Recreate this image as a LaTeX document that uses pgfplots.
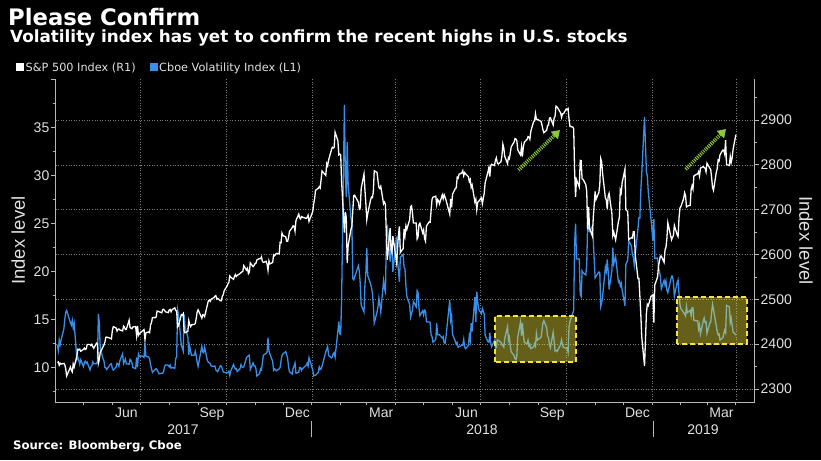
\documentclass[border=0pt]{standalone}
\usepackage{fontspec}
\setmainfont{DejaVu Sans}
\newfontfamily\lib{Liberation Sans}
\usepackage{pgfplots}
\pgfplotsset{compat=1.18}
\usetikzlibrary{arrows.meta}
\definecolor{vixblue}{RGB}{56,142,232}
\definecolor{axgray}{RGB}{185,185,185}
\definecolor{gridgray}{RGB}{125,125,125}
\definecolor{labgray}{RGB}{225,225,225}
\definecolor{boxyellow}{RGB}{245,228,60}
\definecolor{arrowgreen}{RGB}{140,200,60}
\pgfplotsset{
  base/.style={
    at={(55.5pt,57.3pt)}, anchor=south west,
    scale only axis, width=699pt, height=323.5pt,
    xmin=0, xmax=750,
    axis line style={-, draw=axgray, line width=0.8pt},
    tick style={axgray, line width=0.8pt},
    tick align=outside,
    major tick length=4.5pt, minor tick length=2.8pt,
    major grid style={gridgray, dash pattern=on 1pt off 1.6pt, line width=0.6pt},
    tick label style={font=\lib\fontsize{14}{14}\selectfont, text=labgray},
  }
}
\begin{document}
\begin{tikzpicture}[x=1pt,y=1pt]
\fill[black] (0,0) rectangle (821,460);
\path[use as bounding box] (0,0) rectangle (821,460);

% Axis 1: right axis (S&P scale) + horizontal grid, no plot
\begin{axis}[base,
  ymin=2269.4, ymax=2991,
  hide x axis,
  axis y line*=right,
  ytick={2300,2400,2500,2600,2700,2800,2900},
  yticklabels={2300,2400,2500,2600,2700,2800,2900},
  minor ytick={2350,2450,2550,2650,2750,2850,2950},
  ymajorgrids,
  yticklabel style={anchor=west, inner sep=0pt, xshift=1.5pt},
]
\addplot[draw=none, forget plot] coordinates {(0,2300)};
\end{axis}

% Axis 2: VIX (left)
\begin{axis}[base,
  ymin=6.36, ymax=40,
  axis x line*=bottom, axis y line*=left,
  ytick={10,15,20,25,30,35,40},
  yticklabels={10,15,20,25,30,35,},
  minor ytick={7.5,12.5,17.5,22.5,27.5,32.5,37.5},
  yticklabel style={anchor=east, inner sep=0pt, xshift=-1.5pt},
  xtick={76,168,259.5,349.5,441,533,624.5,714.5},
  xticklabels={Jun,Sep,Dec,Mar,Jun,Sep,Dec,Mar},
  major x tick style={draw=none},
  minor xtick={30,61,91,122,153,183,214,244,275,306,334,365,395,426,456,487,518,548,579,609,640,671,699,730},
  extra x ticks={91,183,275,365,456,548,640,730},
  extra x tick labels={},
  extra x tick style={grid=major},
  xticklabel style={anchor=north, inner sep=0pt, yshift=0pt},
]
\addplot[vixblue, line width=1.3pt] coordinates {
(2,12.38)(3,11.79)(4,12.89)(5,12.39)(6,12.87)(9,14.05)(10,15.07)(11,15.77)(12,15.96)(16,14.66)(17,14.42)(18,14.93)(19,14.15)(20,14.63)(23,10.84)(24,11.07)(25,10.76)(26,10.36)(27,10.82)
(30,10.11)(31,10.59)(32,10.68)(33,10.46)(34,10.57)(37,9.77)(38,10.11)(39,10.21)(40,10.60)(41,10.40)(44,10.42)(45,10.65)(46,15.59)(47,14.66)(48,12.04)(51,10.93)(52,10.72)(53,10.02)(54,9.99)(55,9.81)(59,10.38)(60,10.41)
(61,9.89)(62,9.75)(65,10.07)(66,10.45)(67,10.39)(68,10.16)(69,10.70)(72,11.46)(73,10.42)(74,10.64)(75,10.90)(76,10.38)(79,10.37)(80,10.86)(81,10.75)(82,10.48)(83,10.02)(86,9.90)(87,11.06)(88,10.03)(89,11.44)(90,11.18)
(93,11.22)(95,11.07)(96,12.54)(97,11.19)(100,11.11)(101,10.89)(102,10.30)(103,9.90)(104,9.51)(107,9.82)(108,9.89)(109,9.79)(110,9.58)(111,9.36)(114,9.43)(115,9.43)(116,9.60)(117,10.11)(118,10.29)(121,10.26)
(122,10.09)(123,10.28)(124,9.95)(125,10.03)(128,9.93)(129,10.96)(130,11.11)(131,16.04)(132,15.51)(135,12.33)(136,12.04)(137,11.74)(138,15.55)(139,14.26)(142,13.19)(143,11.35)(144,12.25)(145,11.67)(146,11.28)(149,11.32)(150,11.70)(151,11.22)(152,10.59)
(153,10.13)(157,12.23)(158,11.63)(159,11.55)(160,12.12)(163,10.73)(164,10.58)(165,10.50)(166,10.44)(167,10.17)(170,10.15)(171,10.18)(172,9.78)(173,9.67)(174,9.59)(177,10.21)(178,10.17)(179,9.87)(180,9.55)(181,9.51)
(184,9.45)(185,9.51)(186,9.63)(187,9.19)(188,9.65)(191,10.33)(192,10.08)(193,9.85)(194,9.91)(195,9.61)(198,9.91)(199,10.31)(200,10.07)(201,10.05)(202,10.07)(205,11.07)(206,11.16)(207,11.23)(208,11.30)(209,9.80)(212,10.50)(213,10.18)
(214,10.20)(215,9.93)(216,9.14)(219,9.40)(220,9.89)(221,9.78)(222,10.50)(223,11.29)(226,11.50)(227,11.59)(228,13.13)(229,11.76)(230,11.43)(233,10.65)(234,9.73)(235,9.88)(237,9.67)(240,9.87)(241,10.03)(242,10.70)(243,11.28)
(244,11.43)(247,11.68)(248,11.33)(249,11.02)(250,10.16)(251,9.58)(254,9.34)(255,9.92)(256,10.18)(257,10.49)(258,9.42)(261,9.53)(262,10.03)(263,10.03)(264,9.72)(265,9.90)(269,10.25)(270,10.47)(271,10.18)(272,11.04)
(276,9.77)(277,9.15)(278,9.22)(279,9.22)(282,9.52)(283,10.08)(284,9.82)(285,9.88)(286,10.16)(290,11.66)(291,11.91)(292,12.22)(293,11.27)(296,11.03)(297,11.10)(298,11.47)(299,11.58)(300,11.08)(303,13.84)(304,14.79)(305,13.54)
(306,13.47)(307,17.31)(310,37.32)(311,29.98)(312,27.73)(313,33.46)(314,29.06)(317,25.61)(318,24.97)(319,19.26)(320,19.13)(321,19.46)(325,20.60)(326,20.02)(327,18.72)(328,16.49)(331,15.80)(332,18.59)(333,19.85)
(334,22.47)(335,19.59)(338,18.73)(339,18.36)(340,17.76)(341,16.54)(342,14.64)(345,15.78)(346,16.35)(347,17.23)(348,16.59)(349,15.80)(352,19.02)(353,18.20)(354,17.86)(355,23.34)(356,24.87)(359,21.03)(360,22.50)(361,22.87)(362,19.97)
(366,23.62)(367,21.10)(368,20.06)(369,18.94)(370,21.49)(373,21.77)(374,20.47)(375,20.24)(376,18.49)(377,17.41)(380,16.56)(381,15.25)(382,15.60)(383,15.96)(384,16.88)(387,16.34)(388,18.02)(389,17.84)(390,16.24)(391,15.41)(394,15.93)
(395,15.49)(396,15.97)(397,15.90)(398,14.77)(401,14.75)(402,14.71)(403,13.42)(404,13.23)(405,12.65)(408,12.93)(409,14.63)(410,13.42)(411,13.43)(412,13.42)(415,13.08)(416,13.22)(417,12.58)(418,12.53)(419,13.22)(423,17.02)(424,14.94)(425,15.43)
(426,13.46)(429,12.74)(430,12.40)(431,12.60)(432,12.13)(433,12.18)(436,12.35)(437,12.34)(438,12.94)(439,12.12)(440,11.98)(443,12.31)(444,13.35)(445,12.79)(446,14.64)(447,13.77)(450,17.33)(451,14.77)(452,17.91)(453,16.85)(454,16.09)
(457,15.60)(458,16.14)(460,15.57)(461,13.37)(464,12.69)(465,12.64)(466,13.63)(467,12.58)(468,12.18)(471,12.83)(472,12.06)(473,12.10)(474,12.87)(475,12.86)(478,12.62)(479,12.41)(480,12.29)(481,12.14)(482,13.03)(485,14.26)(486,12.83)
(487,13.15)(488,12.19)(489,11.64)(492,11.27)(493,10.93)(494,10.85)(495,11.27)(496,13.16)(499,14.78)(500,13.31)(501,14.64)(502,13.45)(503,12.64)(506,12.49)(507,12.86)(508,12.25)(509,12.41)(510,11.99)(513,12.16)(514,12.50)(515,12.25)(516,13.53)(517,12.86)
(521,13.16)(522,13.91)(523,14.65)(524,14.88)(527,14.16)(528,13.22)(529,13.14)(530,12.37)(531,12.07)(534,13.68)(535,12.79)(536,11.75)(537,11.80)(538,11.68)(541,12.20)(542,12.42)(543,12.89)(544,12.41)(545,12.12)
(548,12.00)(549,12.05)(550,11.61)(551,14.22)(552,14.82)(555,15.69)(556,15.95)(557,22.96)(558,24.98)(559,21.31)(562,21.30)(563,17.62)(564,17.40)(565,20.06)(566,19.89)(569,19.64)(570,20.71)(571,25.23)(572,24.22)(573,24.16)(576,24.70)(577,23.35)(578,21.23)
(579,19.34)(580,19.51)(583,19.96)(584,19.91)(585,16.36)(586,16.72)(587,17.36)(590,20.45)(591,20.02)(592,21.25)(593,19.98)(594,18.14)(597,20.10)(598,22.48)(599,20.80)(601,21.52)(604,18.90)(605,19.02)(606,18.49)(607,18.79)(608,18.07)
(611,16.44)(612,20.74)(614,21.19)(615,23.23)(618,22.64)(619,21.76)(620,21.46)(621,20.65)(622,21.63)(625,24.52)(626,25.58)(627,25.58)(628,28.38)(629,30.11)(632,36.07)(634,30.41)(635,29.96)(636,28.34)(639,25.42)
(641,23.22)(642,25.45)(643,21.38)(646,21.40)(647,20.47)(648,19.98)(649,19.50)(650,18.19)(653,19.07)(654,18.60)(655,19.04)(656,18.06)(657,17.80)(661,19.52)(662,19.52)(663,18.89)(664,17.42)(667,18.87)(668,19.13)(669,17.66)(670,16.57)
(671,16.14)(674,15.73)(675,15.57)(676,15.38)(677,16.37)(678,15.72)(681,15.97)(682,15.43)(683,16.22)(684,16.22)(685,14.91)(689,14.88)(690,14.02)(691,14.46)(692,13.51)(695,14.85)(696,15.17)(697,14.70)(698,14.78)
(699,13.57)(702,14.63)(703,14.74)(704,15.74)(705,16.59)(706,16.05)(709,14.33)(710,13.77)(711,13.41)(712,13.50)(713,12.88)(716,13.10)(717,13.56)(718,13.91)(719,13.63)(720,16.48)(723,16.33)(724,14.68)(725,15.15)(726,14.43)(727,13.71)(730,13.40)
};
\end{axis}

% Axis 3: S&P 500 (right scale), line only
\begin{axis}[base,
  ymin=2269.4, ymax=2991,
  hide x axis, hide y axis,
]
\addplot[white, line width=1.3pt] coordinates {
(2,2358.8)(3,2360.2)(4,2352.9)(5,2357.5)(6,2355.5)(9,2357.2)(10,2353.8)(11,2344.9)(12,2329.0)(16,2349.0)(17,2342.2)(18,2338.2)(19,2355.8)(20,2348.7)(23,2374.2)(24,2388.6)(25,2387.5)(26,2388.8)(27,2384.2)
(30,2388.3)(31,2391.2)(32,2388.1)(33,2389.5)(34,2399.3)(37,2399.4)(38,2396.9)(39,2399.6)(40,2394.4)(41,2390.9)(44,2402.3)(45,2400.7)(46,2357.0)(47,2365.7)(48,2381.7)(51,2394.0)(52,2398.4)(53,2404.4)(54,2415.1)(55,2415.8)(59,2412.9)(60,2411.8)
(61,2430.1)(62,2439.1)(65,2436.1)(66,2429.3)(67,2433.1)(68,2433.8)(69,2431.8)(72,2429.4)(73,2440.4)(74,2437.9)(75,2432.5)(76,2433.2)(79,2453.5)(80,2437.0)(81,2435.6)(82,2434.5)(83,2438.3)(86,2439.1)(87,2419.4)(88,2440.7)(89,2419.7)(90,2423.4)
(93,2429.0)(95,2432.5)(96,2409.8)(97,2425.2)(100,2427.4)(101,2425.5)(102,2443.3)(103,2447.8)(104,2459.3)(107,2459.1)(108,2460.6)(109,2473.8)(110,2473.5)(111,2472.5)(114,2469.9)(115,2477.1)(116,2477.8)(117,2475.4)(118,2472.1)(121,2470.3)
(122,2476.4)(123,2477.6)(124,2472.2)(125,2476.8)(128,2480.9)(129,2474.9)(130,2474.0)(131,2438.2)(132,2441.3)(135,2465.8)(136,2464.6)(137,2468.1)(138,2430.0)(139,2425.6)(142,2428.4)(143,2452.5)(144,2444.0)(145,2439.0)(146,2443.1)(149,2444.2)(150,2446.3)(151,2457.6)(152,2471.7)
(153,2476.6)(157,2457.9)(158,2465.5)(159,2465.1)(160,2461.4)(163,2488.1)(164,2496.5)(165,2498.4)(166,2495.6)(167,2500.2)(170,2503.9)(171,2506.7)(172,2508.2)(173,2500.6)(174,2502.2)(177,2496.7)(178,2496.8)(179,2507.0)(180,2510.1)(181,2519.4)
(184,2529.1)(185,2534.6)(186,2537.7)(187,2552.1)(188,2549.3)(191,2544.7)(192,2550.6)(193,2555.2)(194,2550.9)(195,2553.2)(198,2557.6)(199,2559.4)(200,2561.3)(201,2562.1)(202,2575.2)(205,2565.0)(206,2569.1)(207,2557.2)(208,2560.4)(209,2581.1)(212,2572.8)(213,2575.3)
(214,2579.4)(215,2579.9)(216,2587.8)(219,2591.1)(220,2590.6)(221,2594.4)(222,2584.6)(223,2582.3)(226,2584.8)(227,2578.9)(228,2564.6)(229,2585.6)(230,2578.9)(233,2582.1)(234,2599.0)(235,2597.1)(237,2602.4)(240,2601.4)(241,2627.0)(242,2626.1)(243,2647.6)
(244,2642.2)(247,2639.4)(248,2629.6)(249,2629.3)(250,2637.0)(251,2651.5)(254,2660.0)(255,2664.1)(256,2662.9)(257,2652.0)(258,2675.8)(261,2690.2)(262,2681.5)(263,2679.3)(264,2684.6)(265,2683.3)(269,2680.5)(270,2682.6)(271,2687.5)(272,2673.6)
(276,2695.8)(277,2713.1)(278,2724.0)(279,2743.2)(282,2747.7)(283,2751.3)(284,2748.2)(285,2767.6)(286,2786.2)(290,2776.4)(291,2802.6)(292,2798.0)(293,2810.3)(296,2833.0)(297,2839.1)(298,2837.5)(299,2839.3)(300,2872.9)(303,2853.5)(304,2822.4)(305,2823.8)
(306,2822.0)(307,2762.1)(310,2648.9)(311,2695.1)(312,2681.7)(313,2581.0)(314,2619.6)(317,2656.0)(318,2662.9)(319,2698.6)(320,2731.2)(321,2732.2)(325,2716.3)(326,2701.3)(327,2704.0)(328,2747.3)(331,2779.6)(332,2744.3)(333,2713.8)
(334,2677.7)(335,2691.3)(338,2720.9)(339,2728.1)(340,2726.8)(341,2739.0)(342,2786.6)(345,2783.0)(346,2765.3)(347,2749.5)(348,2747.3)(349,2752.0)(352,2712.9)(353,2716.9)(354,2711.9)(355,2643.7)(356,2588.3)(359,2658.6)(360,2612.6)(361,2605.0)(362,2640.9)
(366,2581.9)(367,2614.5)(368,2644.7)(369,2662.8)(370,2604.5)(373,2613.2)(374,2656.9)(375,2642.2)(376,2664.0)(377,2656.3)(380,2677.8)(381,2706.4)(382,2708.6)(383,2693.1)(384,2670.1)(387,2670.3)(388,2634.6)(389,2639.4)(390,2666.9)(391,2669.9)(394,2648.1)
(395,2654.8)(396,2635.7)(397,2629.7)(398,2663.4)(401,2672.6)(402,2671.9)(403,2697.8)(404,2723.1)(405,2727.7)(408,2730.1)(409,2711.5)(410,2722.5)(411,2720.1)(412,2713.0)(415,2733.0)(416,2724.4)(417,2733.3)(418,2727.8)(419,2721.3)(423,2689.9)(424,2724.0)(425,2705.3)
(426,2734.6)(429,2746.9)(430,2748.8)(431,2772.4)(432,2770.4)(433,2779.0)(436,2782.0)(437,2786.9)(438,2775.6)(439,2782.5)(440,2779.7)(443,2773.8)(444,2762.6)(445,2767.3)(446,2749.8)(447,2754.9)(450,2717.1)(451,2723.1)(452,2699.6)(453,2716.3)(454,2718.4)
(457,2726.7)(458,2713.2)(460,2736.6)(461,2759.8)(464,2784.2)(465,2793.8)(466,2774.0)(467,2798.3)(468,2801.3)(471,2798.4)(472,2809.6)(473,2815.6)(474,2804.5)(475,2801.8)(478,2807.0)(479,2820.4)(480,2846.1)(481,2837.4)(482,2818.8)(485,2802.6)(486,2816.3)
(487,2813.4)(488,2827.2)(489,2840.4)(492,2850.4)(493,2858.5)(494,2857.7)(495,2853.6)(496,2833.3)(499,2821.9)(500,2840.0)(501,2818.4)(502,2840.7)(503,2850.1)(506,2857.1)(507,2863.0)(508,2861.8)(509,2857.0)(510,2874.7)(513,2896.7)(514,2897.5)(515,2914.0)(516,2901.1)(517,2901.5)
(521,2896.7)(522,2888.6)(523,2878.1)(524,2871.7)(527,2877.1)(528,2887.9)(529,2888.9)(530,2904.2)(531,2905.0)(534,2888.8)(535,2904.3)(536,2908.0)(537,2930.8)(538,2929.7)(541,2919.4)(542,2915.6)(543,2906.0)(544,2914.0)(545,2914.0)
(548,2924.6)(549,2923.4)(550,2925.5)(551,2901.6)(552,2885.6)(555,2884.4)(556,2880.3)(557,2785.7)(558,2728.4)(559,2767.1)(562,2750.8)(563,2809.9)(564,2809.2)(565,2768.8)(566,2767.8)(569,2755.9)(570,2740.7)(571,2656.1)(572,2705.6)(573,2658.7)(576,2641.3)(577,2682.6)(578,2711.7)
(579,2740.4)(580,2723.1)(583,2738.3)(584,2755.5)(585,2813.9)(586,2806.8)(587,2781.0)(590,2726.2)(591,2722.2)(592,2701.6)(593,2730.2)(594,2736.3)(597,2690.7)(598,2641.9)(599,2649.9)(601,2632.6)(604,2673.5)(605,2682.2)(606,2743.8)(607,2737.8)(608,2760.2)
(611,2790.4)(612,2700.1)(614,2696.0)(615,2633.1)(618,2637.7)(619,2636.8)(620,2651.1)(621,2650.5)(622,2600.0)(625,2545.9)(626,2546.2)(627,2507.0)(628,2467.4)(629,2416.6)(632,2351.1)(634,2467.7)(635,2488.8)(636,2485.7)(639,2506.9)
(641,2510.0)(642,2447.9)(643,2531.9)(646,2549.7)(647,2574.4)(648,2585.0)(649,2596.6)(650,2596.3)(653,2582.6)(654,2610.3)(655,2616.1)(656,2636.0)(657,2670.7)(661,2632.9)(662,2638.7)(663,2642.3)(664,2664.8)(667,2643.9)(668,2640.0)(669,2681.1)(670,2704.1)
(671,2706.5)(674,2724.9)(675,2737.7)(676,2731.6)(677,2706.1)(678,2707.9)(681,2709.8)(682,2744.7)(683,2753.0)(684,2745.7)(685,2775.6)(689,2779.8)(690,2784.7)(691,2774.9)(692,2792.7)(695,2796.1)(696,2793.9)(697,2792.4)(698,2784.5)
(699,2803.7)(702,2792.8)(703,2789.7)(704,2771.5)(705,2748.9)(706,2743.1)(709,2783.3)(710,2791.5)(711,2810.9)(712,2808.5)(713,2822.5)(716,2832.9)(717,2832.6)(718,2824.2)(719,2854.9)(720,2800.7)(723,2798.4)(724,2818.5)(725,2805.4)(726,2815.4)(727,2834.4)(730,2867.2)
};
\end{axis}

% annotation boxes
\fill[boxyellow, fill opacity=0.42] (495,98.3) rectangle (576,144.3);
\draw[boxyellow, line width=2pt, dash pattern=on 5pt off 3pt] (495,98.3) rectangle (576,144.3);
\fill[boxyellow, fill opacity=0.42] (676.7,116) rectangle (746.7,163.3);
\draw[boxyellow, line width=2pt, dash pattern=on 5pt off 3pt] (676.7,116) rectangle (746.7,163.3);
% arrows
\draw[arrowgreen, line width=3.8pt, dash pattern=on 1pt off 1.1pt, -{Triangle[length=8pt,width=10pt]}] (518.5,290) -- (560,330);
\draw[arrowgreen, line width=3.8pt, dash pattern=on 1pt off 1.1pt, -{Triangle[length=8pt,width=10pt]}] (685.7,290.7) -- (726,331);

% year labels and separators
\draw[axgray, line width=0.8pt] (311.7,23.3) -- (311.7,38.5);
\draw[axgray, line width=0.8pt] (653.3,23.3) -- (653.3,38.5);
\node[anchor=base, inner sep=0, font=\lib\fontsize{14}{14}\selectfont, text=labgray] at (183,25.7) {2017};
\node[anchor=base, inner sep=0, font=\lib\fontsize{14}{14}\selectfont, text=labgray] at (482,25.7) {2018};
\node[anchor=base, inner sep=0, font=\lib\fontsize{14}{14}\selectfont, text=labgray] at (703,25.7) {2019};

% axis titles
\node[rotate=90, inner sep=0, font=\lib\fontsize{18.5}{18.5}\selectfont, text=labgray] at (18.3,219.5) {Index level};
\node[rotate=-90, inner sep=0, font=\lib\fontsize{18.5}{18.5}\selectfont, text=labgray] at (806,219.5) {Index level};

% titles
\node[anchor=base west, inner sep=0, font=\bfseries\fontsize{22.7}{24}\selectfont, text=white] at (8,434) {Please Confirm};
\node[anchor=base west, inner sep=0, font=\bfseries\fontsize{16.8}{18}\selectfont, text=white] at (10,417.5) {Volatility index has yet to confirm the recent highs in U.S.\ stocks};

% legend
\fill[white] (16,389) rectangle (23.5,396.7);
\node[anchor=base west, inner sep=0, font=\fontsize{11.3}{12}\selectfont, text=labgray] at (25.5,388) {S\&P 500 Index (R1)};
\fill[vixblue] (150,389) rectangle (157.5,396.7);
\node[anchor=base west, inner sep=0, font=\fontsize{11.3}{12}\selectfont, text=labgray] at (159,388) {Cboe Volatility Index (L1)};

% source
\node[anchor=base west, inner sep=0, font=\bfseries\fontsize{11.7}{12}\selectfont, text=white] at (13,10) {Source: Bloomberg, Cboe};
\end{tikzpicture}
\end{document}
